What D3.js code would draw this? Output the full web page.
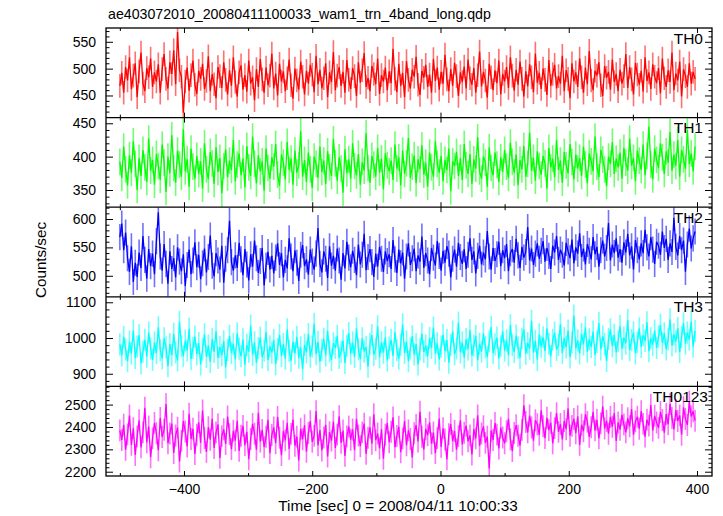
<!DOCTYPE html>
<html>
<head>
<meta charset="utf-8">
<script src="https://cdn.jsdelivr.net/npm/d3@7"></script>
<style>
  html, body { margin: 0; padding: 0; background: #fff; }
  text { font-family: "Liberation Sans", Arial, Helvetica, sans-serif; }
</style>
</head>
<body>
<script>
// ---------------- DATA ----------------
const title = "ae403072010_20080411100033_wam1_trn_4band_long.qdp";
const xLabel = "Time [sec] 0 = 2008/04/11 10:00:33";
const yLabel = "Counts/sec";
const bandNames = ["TH0", "TH1", "TH2", "TH3", "TH0123"];
const binStart = -500;   // sec
const binWidth = 3;      // sec
const xTicks = [-400, -200, 0, 200, 400];

const th0 = [
468,492,455,503,478,521,462,487,510,447,495,530,472,458,501,484,519,466,493,476,
508,455,499,527,481,463,512,490,534,471,568,497,485,418,476,502,459,488,515,470,
453,496,481,509,462,477,523,458,490,471,445,503,486,464,512,479,452,497,468,521,
475,448,493,506,461,488,457,515,472,484,441,499,466,518,480,455,502,469,487,528,
463,491,450,509,476,495,458,482,517,469,444,500,478,461,513,485,452,496,472,507,
489,456,524,471,498,463,482,510,447,493,475,531,460,487,503,468,494,455,516,479,
462,501,486,449,512,474,497,529,466,483,458,505,490,471,519,453,488,476,502,460,
495,473,537,481,456,509,468,492,447,514,479,463,498,485,522,470,451,496,483,507,
466,489,455,518,477,502,461,494,472,526,480,458,499,468,511,486,449,493,475,504,
463,517,482,470,501,455,488,532,467,494,478,446,509,484,460,497,473,515,452,490,
476,503,464,521,487,459,498,470,513,481,448,495,467,508,484,456,528,474,492,462,
500,479,451,516,468,490,507,463,486,472,524,458,497,481,445,510,476,493,466,519,
484,455,502,471,533,478,460,496,487,512,469,449,505,483,494,461,517,475,490,458,
498,472,486,527,464,503,480,452,511,489,470,496,457,521,477,493,462,508,485,473,
501,454,519,482,466,497,475,530,460,491,478,513,448,499,486,466,510,472,494,481];

const th1 = [
392,368,415,381,357,402,376,423,389,350,398,371,410,384,362,427,379,395,358,404,
386,365,418,391,347,400,375,432,383,361,409,388,370,441,378,396,355,412,385,367,
401,374,393,352,420,381,366,407,390,359,414,377,398,345,386,411,369,394,380,425,
363,388,405,372,397,354,416,384,371,430,389,360,402,378,393,349,412,383,367,399,
385,419,373,356,403,391,366,422,380,397,358,409,376,387,438,370,395,362,406,381,
353,400,389,368,415,377,394,359,408,384,371,426,390,364,399,382,346,411,375,396,
367,420,386,372,404,358,392,379,435,383,361,401,388,370,413,376,397,351,405,387,
378,394,365,418,382,399,357,409,374,390,428,368,385,402,360,396,381,417,373,391,
355,406,384,370,423,389,376,401,363,395,380,412,348,393,386,407,371,398,365,419,
387,374,404,359,396,382,429,378,367,400,391,355,414,383,372,406,388,362,399,377,
410,385,368,421,392,376,403,357,395,381,416,370,389,436,379,398,364,408,386,373,
401,390,352,413,384,397,369,425,380,394,361,407,387,375,419,392,366,403,382,398,
371,415,388,360,405,393,378,430,385,369,410,396,381,356,400,389,422,374,397,384,
406,367,413,391,379,427,386,398,363,409,394,380,418,372,401,445,388,366,412,395,
383,420,399,374,408,391,437,379,403,386,425,370,410,396,382,440,389,405,378,415];

const th2 = [
568,592,545,576,531,507,552,489,523,498,541,514,570,528,495,547,517,539,503,561,
612,534,509,556,521,486,543,512,531,497,550,525,508,538,482,519,546,503,527,559,
515,537,494,522,548,506,533,571,518,499,540,527,511,553,488,530,545,597,524,509,
536,514,558,529,501,547,520,492,538,516,562,531,505,526,549,483,518,542,511,535,
504,532,557,519,540,497,528,513,566,534,508,545,523,491,537,554,517,529,502,546,
525,511,539,584,521,506,543,530,496,552,518,535,509,548,527,493,540,513,560,532,
515,544,528,501,555,520,537,574,510,533,547,524,498,539,516,551,530,507,543,526,
538,512,563,529,505,546,522,541,495,534,557,519,531,548,508,536,525,569,514,540,
527,503,549,532,518,561,535,509,544,523,552,539,497,530,546,516,558,533,521,547,
512,537,566,528,543,504,535,553,520,541,529,579,534,511,549,526,538,560,517,545,
531,556,508,540,547,523,565,536,514,551,532,542,586,527,548,519,539,557,530,544,
561,525,549,535,512,553,541,570,528,546,537,518,558,543,531,564,522,550,539,575,
533,548,520,556,544,529,568,538,551,516,545,562,534,549,593,527,555,540,566,532,
547,523,559,541,574,536,552,511,563,545,529,557,540,581,550,534,568,546,521,560,
553,537,578,549,565,528,557,542,602,551,536,570,545,562,507,555,583,548,566,578];

const th3 = [
982,951,1003,968,935,990,957,1021,944,976,1008,929,962,995,948,1015,971,939,987,958,
1030,966,943,999,974,921,983,952,1012,960,937,1045,978,949,993,965,1026,941,972,1004,
955,986,926,968,1010,947,979,933,997,961,1019,944,975,952,991,918,967,1006,958,984,
940,1013,970,949,996,925,980,962,1035,953,988,931,972,1001,946,965,1017,938,977,959,
994,927,969,1009,950,983,942,1024,964,936,990,957,1003,945,974,913,981,960,1011,948,
976,1040,955,989,934,967,998,951,1020,963,939,985,972,1006,944,961,993,930,978,1014,
956,987,947,1027,969,941,999,962,975,920,984,1008,953,970,1033,946,988,959,1002,937,
973,995,950,1016,966,942,981,1038,958,990,935,971,1005,954,983,926,968,1012,961,979,
948,1000,972,1029,957,985,940,976,1009,963,994,931,980,1018,955,971,1043,960,988,945,
997,968,1022,951,979,1006,938,984,962,1013,974,947,991,1031,958,982,1001,943,977,1019,
965,993,952,1036,980,961,1007,973,944,998,1024,956,986,970,1048,959,992,939,1010,976,
1002,963,1027,984,949,995,1015,967,981,1039,958,1000,974,1021,946,987,1063,971,993,957,
1011,982,1030,962,996,975,1018,953,989,1042,968,1005,983,936,997,1024,977,1009,960,991,
1034,970,1001,985,1050,966,994,1016,957,988,1027,975,1008,992,1044,963,999,981,1021,972,
1004,1037,986,1013,968,997,1052,979,1010,990,1028,961,1003,1041,984,1015,995,1046,976,1020];

const th0123 = [
2385,2342,2410,2298,2367,2451,2320,2394,2275,2358,2430,2309,2376,2486,2331,2402,2265,2349,2418,2372,
2296,2440,2355,2388,2503,2327,2371,2415,2284,2362,2397,2246,2338,2426,2380,2313,2459,2346,2392,2279,
2365,2421,2330,2474,2351,2288,2399,2343,2437,2306,2375,2412,2262,2359,2390,2324,2447,2368,2301,2383,
2339,2428,2293,2361,2405,2319,2378,2256,2346,2414,2370,2298,2463,2335,2387,2310,2356,2432,2283,2364,
2398,2327,2445,2352,2274,2381,2340,2419,2302,2369,2433,2316,2357,2250,2392,2345,2408,2289,2373,2426,
2334,2361,2471,2318,2386,2295,2353,2410,2268,2377,2339,2424,2306,2366,2448,2329,2384,2271,2358,2402,
2343,2389,2297,2436,2362,2314,2376,2415,2280,2352,2398,2325,2457,2341,2371,2304,2390,2258,2365,2417,
2332,2379,2443,2309,2360,2401,2287,2348,2426,2318,2385,2346,2264,2372,2409,2335,2468,2356,2300,2391,
2363,2420,2326,2375,2283,2350,2438,2311,2394,2344,2255,2368,2413,2337,2382,2299,2359,2430,2322,2374,
2406,2336,2362,2277,2390,2349,2452,2315,2371,2403,2329,2357,2215,2384,2342,2418,2366,2304,2397,2353,
2327,2381,2436,2345,2292,2373,2408,2361,2318,2388,2497,2422,2376,2451,2398,2339,2430,2412,2365,2474,
2403,2350,2441,2386,2419,2327,2395,2462,2378,2414,2344,2427,2390,2483,2361,2405,2436,2372,2448,2320,
2410,2381,2457,2423,2356,2399,2468,2385,2432,2349,2416,2491,2393,2427,2370,2445,2401,2462,2338,2420,
2388,2454,2411,2376,2439,2403,2480,2365,2425,2446,2392,2471,2414,2357,2433,2406,2498,2384,2450,2420,
2396,2467,2431,2375,2458,2412,2503,2440,2389,2476,2427,2452,2365,2488,2436,2409,2513,2447,2470,2428];

// error half-widths (counts/sec)
const bandErrors = [22, 20, 23, 31, 49];
// y-axis ticks per panel
const yMajor = [[450, 500, 550], [350, 400, 450], [500, 550, 600], [900, 1000, 1100], [2200, 2300, 2400, 2500]];
const yMinorStep = [10, 10, 10, 20, 20];
const yDomains = [[408.8, 575.7], [324.2, 458.5], [463, 620.8], [864.6, 1115.3], [2180.8, 2581.5]];
const series = [th0, th1, th2, th3, th0123];
const lineColors = ["#ff0000", "#00ff00", "#0000ff", "#00ffff", "#ff00ff"];
const barColors = ["#ff7070", "#70ff70", "#7070ff", "#70ffff", "#ff70ff"];

// ---------------- LAYOUT ----------------
const W = 723, H = 516;
const fLeft = 106, fRight = 712, fTop = 28, fBottom = 476;
const nP = series.length;
const ph = (fBottom - fTop) / nP;

const svg = d3.select("body").append("svg").attr("width", W).attr("height", H);
svg.append("rect").attr("width", W).attr("height", H).attr("fill", "#fff");

const x = d3.scaleLinear().domain([-521.6, 423.4]).range([fLeft, fRight]);
const xMinor = d3.range(-500, 401, 100).filter(v => !xTicks.includes(v));

series.forEach((vals, k) => {
  const y0 = fTop + k * ph, y1 = y0 + ph;
  const y = d3.scaleLinear().domain(yDomains[k]).range([y1, y0]);
  const times = vals.map((_, i) => binStart + i * binWidth);
  const err = bandErrors[k];

  const clipId = "clip" + k;
  svg.append("clipPath").attr("id", clipId)
    .append("rect").attr("x", fLeft).attr("y", y0).attr("width", fRight - fLeft).attr("height", ph);

  const g = svg.append("g").attr("clip-path", `url(#${clipId})`);
  g.selectAll("line.err").data(vals).join("line")
    .attr("class", "err")
    .attr("x1", (d, i) => x(times[i])).attr("x2", (d, i) => x(times[i]))
    .attr("y1", d => y(d - err)).attr("y2", d => y(d + err))
    .attr("stroke", barColors[k]).attr("stroke-width", 1.6);
  g.append("path").datum(vals)
    .attr("d", d3.line().x((d, i) => x(times[i])).y(d => y(d)))
    .attr("fill", "none").attr("stroke", lineColors[k]).attr("stroke-width", 1.3)
    .attr("stroke-linejoin", "miter").attr("stroke-miterlimit", 2);

  // y axes
  const minorVals = d3.range(Math.ceil(yDomains[k][0] / yMinorStep[k]) * yMinorStep[k], yDomains[k][1], yMinorStep[k])
    .filter(v => !yMajor[k].includes(v));
  const yl = svg.append("g").attr("transform", `translate(${fLeft},0)`)
    .call(d3.axisLeft(y).tickValues(yMajor[k]).tickSize(-7).tickPadding(10).tickFormat(d3.format("d")));
  yl.append("g").call(d3.axisLeft(y).tickValues(minorVals).tickSize(-3.5).tickFormat(""));
  const yr = svg.append("g").attr("transform", `translate(${fRight},0)`)
    .call(d3.axisRight(y).tickValues(yMajor[k]).tickSize(-7).tickFormat(""));
  yr.append("g").call(d3.axisRight(y).tickValues(minorVals).tickSize(-3.5).tickFormat(""));

  // x ticks top and bottom of panel
  const xt = svg.append("g").attr("transform", `translate(0,${y0})`);
  xt.call(d3.axisTop(x).tickValues(xTicks).tickSize(-5).tickFormat(""));
  xt.append("g").call(d3.axisTop(x).tickValues(xMinor).tickSize(-3).tickFormat(""));
  const xb = svg.append("g").attr("transform", `translate(0,${y1})`);
  if (k === nP - 1) {
    xb.call(d3.axisBottom(x).tickValues(xTicks).tickSize(-5).tickPadding(7.7));
  } else {
    xb.call(d3.axisBottom(x).tickValues(xTicks).tickSize(-5).tickFormat(""));
  }
  xb.append("g").call(d3.axisBottom(x).tickValues(xMinor).tickSize(-3).tickFormat(""));

  // panel label
  svg.append("text")
    .attr("x", k === nP - 1 ? 708 : 703).attr("y", y0 + 15.5)
    .attr("text-anchor", "end").attr("font-size", "15.5px").attr("fill", "#000")
    .text(bandNames[k]);
});

svg.selectAll(".domain").remove();
svg.selectAll(".tick line").attr("stroke", "#000").attr("stroke-width", 1);
svg.selectAll(".tick text").attr("font-size", "14px").attr("fill", "#000")
  .attr("font-family", "'Liberation Sans', Arial, sans-serif");

// frame and panel separators
svg.append("rect").attr("x", fLeft).attr("y", fTop).attr("width", fRight - fLeft).attr("height", fBottom - fTop)
  .attr("fill", "none").attr("stroke", "#000").attr("stroke-width", 1.3);
for (let k = 1; k < nP; k++) {
  svg.append("line").attr("x1", fLeft).attr("x2", fRight)
    .attr("y1", fTop + k * ph).attr("y2", fTop + k * ph)
    .attr("stroke", "#000").attr("stroke-width", 1.3);
}

// titles
svg.append("text").attr("x", 108).attr("y", 19).attr("font-size", "14.2px").attr("fill", "#000").text(title);
svg.append("text").attr("x", 398).attr("y", 511).attr("text-anchor", "middle")
  .attr("font-size", "15.3px").attr("fill", "#000").text(xLabel);
svg.append("text").attr("transform", "translate(45.5,260) rotate(-90)").attr("text-anchor", "middle")
  .attr("font-size", "15.2px").attr("fill", "#000").text(yLabel);
</script>
</body>
</html>
